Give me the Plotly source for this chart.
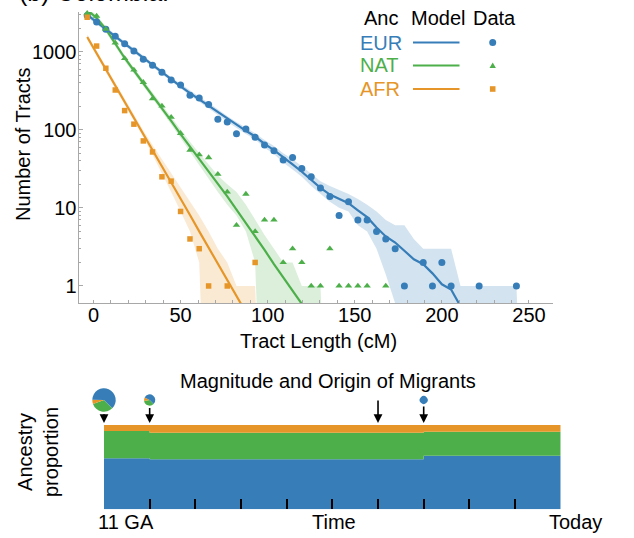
import plotly.graph_objects as go

W, H = 634, 538
FONT = "Liberation Sans, Arial, sans-serif"

# ---------------- data: tract length distribution (Colombia) ----------------
bins_cm = [-3.6, 1.8, 7.1, 12.5, 17.9, 23.2, 28.6, 33.9, 39.3, 44.6, 50.0, 55.4,
           60.7, 66.1, 71.4, 76.8, 82.1, 87.5, 92.8, 98.2, 103.6, 108.9, 114.3,
           119.6, 125.0, 130.3, 135.7, 141.0, 146.4, 151.8, 157.1, 162.5, 167.8,
           173.2, 178.5, 183.9, 189.3, 194.6, 200.0, 205.3, 210.7, 216.0, 221.4,
           226.7, 232.1, 237.5, 242.8, 248.2]

eur_data = [2900, 2400, 1940, 1570, 1260, 1020, 800, 670, 545, 434, 375, 277, 255,
            210, 136, 126, 89, 102, 80, 64, 54, 41, 44, 32, 25, 18, 14, 8, 12, 7, 7,
            5, 4, 3, 1, None, 2, 1, 2, 1, None, None, 1, None, None, None, 1]
nat_data = [3100, 2860, 1950, 1300, 820, 583, 405, 250, 202, 145, 90, 55, 48, 44,
            27, 16, 6, 15, 5, 7, 7, 2, 3, 2, 1, 1, 3, 1, 1, 1, 1, None, 1]
afr_data = [2760, 1180, 613, 323, 176, 118, 72, 52, 25, 22, 9, 4, 3, 1, None, 1,
            None, None, 2]

eur_model = [2950, 2400, 1950, 1580, 1270, 1030, 830, 670, 545, 440, 360, 295, 245,
             205, 168, 138, 115, 97, 82, 66, 55, 44, 36, 29, 22.5, 18, 14.8, 13,
             11.5, 9.3, 7.6, 5.6, 4.3, 3.6, 2.8, 2.2, 1.9, 1.45, 1.05, 0.9, 0.55]
nat_model = [3420, 2700, 1940, 1256, 830, 574, 397, 275, 190, 130, 88, 61, 42, 29,
             20, 14, 9.5, 6.4, 4.4, 2.9, 1.9, 1.29, 0.86, 0.59]
afr_model = [1540, 956, 593, 368, 228, 142, 88, 55, 34, 21, 13.1, 8.1, 5.0, 3.1,
             1.93, 1.2, 0.74, 0.46]

ZERO = 1e-3  # empty quantile (log scale: drawn below the axis)
eur_lo = [2750, 2250, 1830, 1480, 1190, 965, 780, 630, 510, 412, 337, 275, 228, 190,
          155, 127, 105, 88, 75, 59, 49, 38, 31, 25, 19, 15, 12, 10, 9, 6, 5, 3,
          1.4, 0.6] + [ZERO] * 14
eur_hi = [3150, 2560, 2080, 1690, 1360, 1100, 890, 715, 585, 472, 388, 318, 265, 222,
          182, 150, 126, 107, 90, 74, 62, 50, 42, 34, 27, 22, 19, 17, 15, 13, 11, 9,
          7, 6, 6, 4, 3, 3, 3, 3, 1, 1, 1, 1, 1, 1, 1, ZERO]
nat_lo = [3150, 2480, 1780, 1150, 760, 525, 363, 250, 172, 117, 78, 53, 36, 24, 16,
          11, 8, 5, 2] + [ZERO] * 8
nat_hi = [3700, 2920, 2100, 1360, 900, 623, 432, 300, 208, 143, 98, 70, 50, 36, 26,
          20, 16, 11, 7, 4.5, 3, 2, 2, 1, 1, 1, ZERO]
afr_lo = [1420, 880, 545, 338, 210, 130, 80, 48, 28, 16, 9, 5, 2] + [ZERO] * 7
afr_hi = [1660, 1035, 642, 400, 248, 156, 98, 64, 42, 27, 18, 12, 8, 5, 3, 2, 1, 1,
          1, ZERO]

x_ticks = [0, 50, 100, 150, 200, 250]
y_ticks = [1, 10, 100, 1000]
y_ticktext = ["1", "10", "100", "1000"]

# ---------------- data: admixture timeline ----------------
gen_steps = [0, 1, 7, 10]           # tick index (11 GA ... Today)
prop_eur = [0.605, 0.593, 0.636, 0.636]
prop_nat = [0.324, 0.316, 0.285, 0.285]
prop_afr = [0.071, 0.091, 0.079, 0.079]
pulse_gen = [0, 1, 6, 7]
pulse_size = [1.0, 0.48, 0.0, 0.34]  # relative pie radius
# pie slices in order NAT, AFR, EUR (drawn clockwise)
pulse_mix = [[0.32, 0.06, 0.62], [0.35, 0.10, 0.55], None, [0.0, 0.0, 1.0]]
time_labels = ["11 GA", "Time", "Today"]

C_EUR, C_NAT, C_AFR = "#377EB8", "#4DAF4A", "#E69628"
F_EUR, F_NAT, F_AFR = "rgba(55,126,184,0.22)", "rgba(77,175,74,0.2)", "rgba(230,150,40,0.2)"


def fx(px):
    return px / W


def fy(py):
    return 1 - py / H


fig = go.Figure()

series = [
    ("EUR", C_EUR, F_EUR, eur_data, eur_model, eur_lo, eur_hi, "circle", 7),
    ("NAT", C_NAT, F_NAT, nat_data, nat_model, nat_lo, nat_hi, "triangle-up", 6.5),
    ("AFR", C_AFR, F_AFR, afr_data, afr_model, afr_lo, afr_hi, "square", 5.5),
]

for name, col, fcol, d, m, lo, hi, sym, sz in series:
    fig.add_trace(go.Scatter(x=bins_cm[:len(lo)], y=lo, mode="lines",
                             line=dict(width=0, color=fcol), showlegend=False,
                             hoverinfo="skip"))
    fig.add_trace(go.Scatter(x=bins_cm[:len(hi)], y=hi, mode="lines", fill="tonexty",
                             fillcolor=fcol, line=dict(width=0, color=fcol),
                             showlegend=False, hoverinfo="skip"))
for name, col, fcol, d, m, lo, hi, sym, sz in series:
    fig.add_trace(go.Scatter(x=bins_cm[:len(m)], y=m, mode="lines",
                             line=dict(width=2.2, color=col), showlegend=False,
                             name=name + " model"))
for name, col, fcol, d, m, lo, hi, sym, sz in series:
    fig.add_trace(go.Scatter(x=bins_cm[:len(d)], y=d, mode="markers",
                             marker=dict(symbol=sym, size=sz, color=col, line=dict(width=0)),
                             showlegend=False, name=name + " data", cliponaxis=False))

# stacked ancestry proportions
for vals, col in [(prop_eur, C_EUR), (prop_nat, C_NAT), (prop_afr, C_AFR)]:
    fig.add_trace(go.Scatter(x=gen_steps, y=vals, mode="lines", stackgroup="anc",
                             line=dict(width=0, shape="hv", color=col), fillcolor=col,
                             xaxis="x2", yaxis="y2", showlegend=False, hoverinfo="skip"))

# migrant pulses (pies) and arrows
x2_left, x2_right = 104, 560.7
tick_px = (x2_right - x2_left) / 10
R_MAX = 11.7
pie_cy = 400
for g, s, mix in zip(pulse_gen, pulse_size, pulse_mix):
    cx = x2_left + g * tick_px
    r = R_MAX * s
    if mix is not None and r > 0:
        fig.add_trace(go.Pie(values=mix, labels=["NAT", "AFR", "EUR"], sort=False,
                             direction="clockwise", rotation=135,
                             marker=dict(colors=[C_NAT, C_AFR, C_EUR],
                                         line=dict(width=0)),
                             textinfo="none", hoverinfo="skip", showlegend=False,
                             domain=dict(x=[fx(cx - r), fx(cx + r)],
                                         y=[fy(pie_cy + r), fy(pie_cy - r)])))
    tail = pie_cy + r if r > 0 else 398
    fig.add_annotation(x=g, y=fy(423), xref="x2", yref="paper", ax=0,
                       ay=-(423 - tail - 1), axref="pixel", ayref="pixel", text="",
                       showarrow=True, arrowhead=2, arrowsize=1.1, arrowwidth=1.6,
                       arrowcolor="black")

anno_font = dict(family=FONT, size=20, color="black")
# axis titles
fig.add_annotation(x=fx(318), y=fy(341), xref="paper", yref="paper",
                   text="Tract Length (cM)", showarrow=False, font=anno_font,
                   xanchor="center", yanchor="middle")
fig.add_annotation(x=fx(23), y=fy(145), xref="paper", yref="paper",
                   text="Number of Tracts", showarrow=False, font=anno_font,
                   textangle=-90, xanchor="center", yanchor="middle")
fig.add_annotation(x=fx(17), y=fy(8), xref="paper", yref="paper",
                   text="(b) Colombia:", showarrow=False,
                   font=dict(family=FONT, size=25, color="black"),
                   xanchor="left", yanchor="bottom")
fig.add_annotation(x=fx(328), y=fy(381), xref="paper", yref="paper",
                   text="Magnitude and Origin of Migrants", showarrow=False,
                   font=anno_font, xanchor="center", yanchor="middle")
fig.add_annotation(x=fx(38), y=fy(452), xref="paper", yref="paper",
                   text="Ancestry<br>proportion", showarrow=False, font=anno_font,
                   textangle=-90, xanchor="center", yanchor="middle")
for lab, cx in zip(time_labels, [126, 334, 575]):
    fig.add_annotation(x=fx(cx), y=fy(522), xref="paper", yref="paper", text=lab,
                       showarrow=False, font=anno_font, xanchor="center",
                       yanchor="middle")

# legend (custom, as in the original)
for lab, cx in [("Anc", 381), ("Model", 438), ("Data", 494)]:
    fig.add_annotation(x=fx(cx), y=fy(17.5), xref="paper", yref="paper", text=lab,
                       showarrow=False, font=anno_font, xanchor="center",
                       yanchor="middle")
for (name, col, *_), ly in zip(series, [42.5, 65.5, 89]):
    fig.add_annotation(x=fx(358), y=fy(ly), xref="paper", yref="paper", text=name,
                       showarrow=False, font=dict(family=FONT, size=20, color=col),
                       xanchor="left", yanchor="middle")
    fig.add_shape(type="line", xref="paper", yref="paper", x0=fx(413), x1=fx(459.5),
                  y0=fy(ly), y1=fy(ly), line=dict(color=col, width=2.2))
mx = 492.7
fig.add_shape(type="circle", xref="paper", yref="paper", x0=fx(mx - 3.5), x1=fx(mx + 3.5),
              y0=fy(42.5 + 3.5), y1=fy(42.5 - 3.5), fillcolor=C_EUR, line=dict(width=0))
fig.add_shape(type="path", xref="paper", yref="paper",
              path=f"M {fx(mx-3.2)} {fy(68)} L {fx(mx+3.2)} {fy(68)} L {fx(mx)} {fy(62.5)} Z",
              fillcolor=C_NAT, line=dict(width=0))
fig.add_shape(type="rect", xref="paper", yref="paper", x0=fx(mx - 2.8), x1=fx(mx + 2.8),
              y0=fy(89 + 2.8), y1=fy(89 - 2.8), fillcolor=C_AFR, line=dict(width=0))

y_minor = [k * 10 ** d for d in range(0, 4) for k in range(2, 10) if k * 10 ** d < 3300]
x_minor = [v for v in range(10, 260, 10) if v % 50]

axis_gray = "#a8a8a8"
fig.update_layout(
    width=W, height=H, margin=dict(l=0, r=0, t=0, b=0),
    paper_bgcolor="white", plot_bgcolor="white", template="none",
    xaxis=dict(domain=[fx(78.5), fx(553)], range=[-8.6, 263.8], showgrid=False,
               zeroline=False, showline=True, linecolor=axis_gray, linewidth=1,
               ticks="inside", ticklen=3, tickcolor=axis_gray, tickvals=x_ticks,
               tickfont=dict(family=FONT, size=20, color="black"),
               ticklabelstandoff=-6,
               minor=dict(tickvals=x_minor, ticks="inside", ticklen=3,
                          tickcolor=axis_gray),
               automargin=False, anchor="y"),
    yaxis=dict(domain=[fy(303), fy(12)], type="log", range=[-0.218, 3.508],
               showgrid=False, zeroline=False, showline=True, linecolor=axis_gray,
               linewidth=1, ticks="inside", ticklen=4, tickcolor=axis_gray,
               tickvals=y_ticks, ticktext=y_ticktext,
               tickfont=dict(family=FONT, size=20, color="black"),
               ticklabelstandoff=-3,
               minor=dict(tickvals=y_minor, ticks="inside", ticklen=2,
                          tickcolor=axis_gray),
               automargin=False, anchor="x"),
    xaxis2=dict(domain=[fx(x2_left), fx(x2_right)], range=[0, 10], anchor="y2",
                showgrid=False, zeroline=False, showline=False, ticks="inside",
                ticklen=10, tickwidth=1.6, tickcolor="black", tickvals=list(range(11)),
                showticklabels=False, automargin=False),
    yaxis2=dict(domain=[fy(509.3), fy(425)], range=[0, 1], anchor="x2", visible=False,
                showgrid=False, zeroline=False, automargin=False),
    showlegend=False,
)

fig.write_html("out.html", config={"displayModeBar": False},
               post_script="document.body.style.margin='0px';"
                           "document.body.style.overflow='hidden';")
